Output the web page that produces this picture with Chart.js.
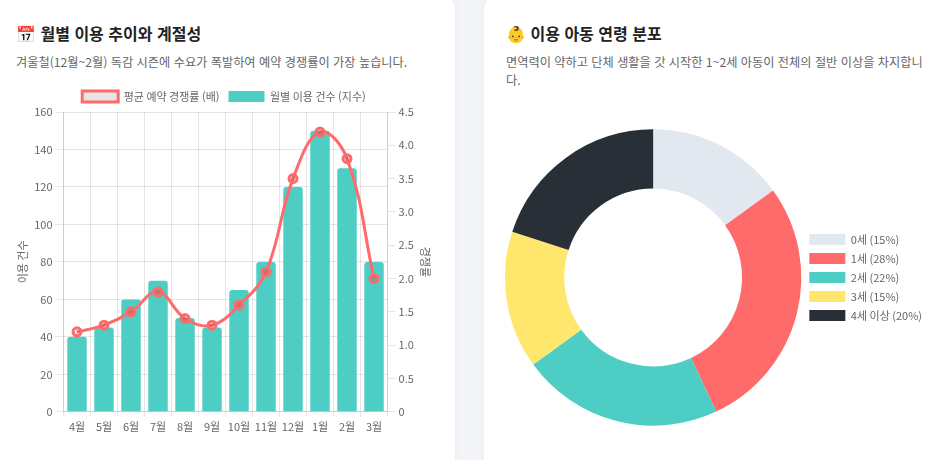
<!DOCTYPE html>
<html lang="ko">
<head>
  <meta charset="UTF-8">
  <title>이용 추이 및 연령 분포</title>
  <script src="https://cdn.jsdelivr.net/npm/chart.js"></script>
  <style>
    body {
      margin: 0;
      width: 940px;
      height: 460px;
      overflow: hidden;
      position: relative;
      background-color: #f3f5f9;
      font-family: 'Noto Sans CJK KR', 'Noto Sans', sans-serif;
      color: #222;
    }
    .card {
      position: absolute;
      top: -6px;
      height: 500px;
      background-color: #ffffff;
      border-radius: 16px;
      box-shadow: 0 2px 10px rgba(0, 0, 0, 0.05);
    }
    #leftCard { left: -14px; width: 469px; }
    #rightCard { left: 484px; width: 480px; }
    .title {
      position: absolute;
      margin: 0;
      font-size: 16px;
      font-weight: bold;
      line-height: 22px;
      white-space: nowrap;
    }
    .desc {
      position: absolute;
      margin: 0;
      font-size: 12.2px;
      line-height: 18px;
      color: #666;
    }
    .chartBox { position: absolute; }
  </style>
</head>
<body>
  <div class="card" id="leftCard"></div>
  <div class="card" id="rightCard"></div>

  <h2 class="title" style="left:16px; top:22px;">📅 월별 이용 추이와 계절성</h2>
  <p class="desc" style="left:16px; top:53px; white-space:nowrap;">겨울철(12월~2월) 독감 시즌에 수요가 폭발하여 예약 경쟁률이 가장 높습니다.</p>
  <div class="chartBox" style="left:14px; top:82px; width:420px; height:354px;">
    <canvas id="monthlyChart"></canvas>
  </div>

  <h2 class="title" style="left:506px; top:22px;">👶 이용 아동 연령 분포</h2>
  <p class="desc" style="left:506px; top:53px; width:425px;">면역력이 약하고 단체 생활을 갓 시작한 1~2세 아동이 전체의 절반 이상을 차지합니다.</p>
  <div class="chartBox" style="left:505px; top:129px; width:427px; height:297px;">
    <canvas id="ageChart"></canvas>
  </div>

  <script>
    // monthly data
    const months = ['4월', '5월', '6월', '7월', '8월', '9월', '10월', '11월', '12월', '1월', '2월', '3월'];
    const usageIndex = [40, 45, 60, 70, 50, 45, 65, 80, 120, 150, 130, 80];
    const competitionRate = [1.2, 1.3, 1.5, 1.8, 1.4, 1.3, 1.6, 2.1, 3.5, 4.2, 3.8, 2.0];

    // age data
    const ageLabels = ['0세 (15%)', '1세 (28%)', '2세 (22%)', '3세 (15%)', '4세 이상 (20%)'];
    const ageShares = [15, 28, 22, 15, 20];
    const ageColors = ['#e2e8f0', '#ff6b6b', '#4ecdc4', '#ffe66d', '#292f36'];

    Chart.defaults.font.family = "'Noto Sans CJK KR', 'Noto Sans', sans-serif";
    Chart.defaults.font.size = 11;
    Chart.defaults.color = '#666';

    new Chart(document.getElementById('monthlyChart'), {
      type: 'bar',
      data: {
        labels: months,
        datasets: [
          {
            type: 'line',
            label: '평균 예약 경쟁률 (배)',
            data: competitionRate,
            borderColor: '#ff6b6b',
            borderWidth: 3,
            pointRadius: 4,
            tension: 0.4,
            yAxisID: 'y1',
            order: 0
          },
          {
            label: '월별 이용 건수 (지수)',
            data: usageIndex,
            backgroundColor: '#4ecdc4',
            borderRadius: 3,
            yAxisID: 'y',
            order: 1
          }
        ]
      },
      options: {
        responsive: true,
        maintainAspectRatio: false,
        animation: false,
        plugins: {
          legend: {
            labels: { boxWidth: 36, boxHeight: 11, padding: 9 }
          }
        },
        scales: {
          x: {
            grid: { tickLength: 5 },
            ticks: { maxRotation: 0, autoSkip: false }
          },
          y: {
            position: 'left',
            min: 0,
            max: 160,
            ticks: { stepSize: 20 },
            title: { display: true, text: '이용 건수', padding: 2 }
          },
          y1: {
            position: 'right',
            min: 0,
            max: 4.5,
            ticks: { stepSize: 0.5 },
            grid: { drawOnChartArea: false },
            title: { display: true, text: '경쟁률', padding: 2 }
          }
        }
      }
    });

    new Chart(document.getElementById('ageChart'), {
      type: 'doughnut',
      data: {
        labels: ageLabels,
        datasets: [{
          data: ageShares,
          backgroundColor: ageColors,
          borderWidth: 0
        }]
      },
      options: {
        responsive: true,
        maintainAspectRatio: false,
        animation: false,
        cutout: '60%',
        plugins: {
          legend: {
            position: 'right',
            labels: { boxWidth: 36, boxHeight: 11, padding: 8 }
          }
        }
      }
    });
  </script>
</body>
</html>
